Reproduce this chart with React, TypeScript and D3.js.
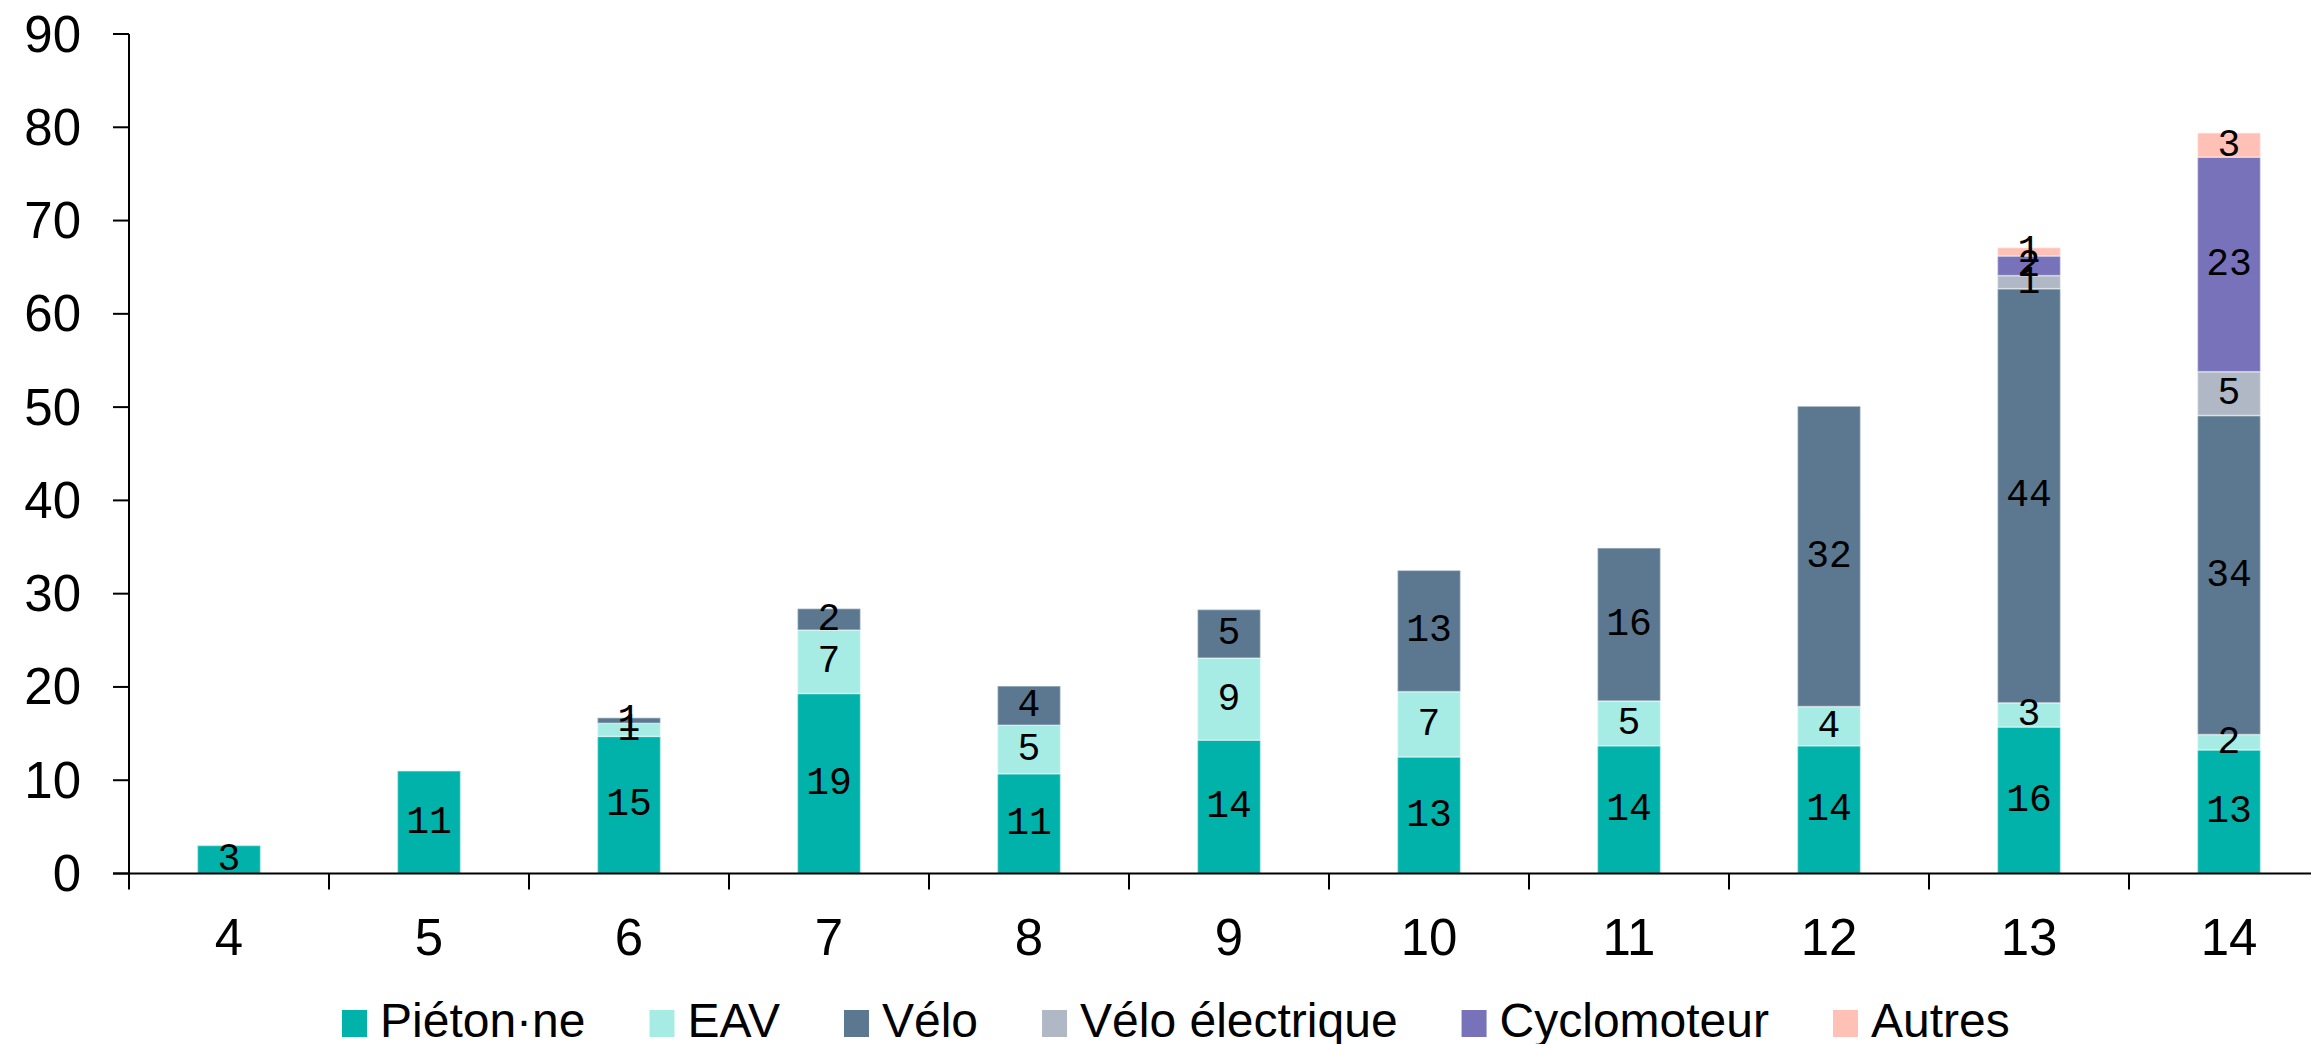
import { useEffect, useRef } from "react";
import * as d3 from "d3";

const categories = ["4", "5", "6", "7", "8", "9", "10", "11", "12", "13", "14"];

const pieton = [3.0, 11.0, 14.7, 19.3, 10.7, 14.3, 12.5, 13.7, 13.7, 15.7, 13.25];
const eav = [0, 0, 1.4, 6.8, 5.2, 8.8, 7.0, 4.8, 4.2, 2.6, 1.65];
const velo = [0, 0, 0.6, 2.3, 4.2, 5.2, 13.0, 16.4, 32.2, 44.4, 34.2];
const veloElectrique = [0, 0, 0, 0, 0, 0, 0, 0, 0, 1.4, 4.7];
const cyclomoteur = [0, 0, 0, 0, 0, 0, 0, 0, 0, 2.1, 23.0];
const autres = [0, 0, 0, 0, 0, 0, 0, 0, 0, 0.9, 2.6];

const seriesNames = ["Piéton·ne", "EAV", "Vélo", "Vélo électrique", "Cyclomoteur", "Autres"];
const seriesValues = [pieton, eav, velo, veloElectrique, cyclomoteur, autres];
const seriesColors = ["#00B2A9", "#A6ECE4", "#5B7890", "#B0B8C6", "#7872BA", "#FFC1B6"];

const yTicks = [0, 10, 20, 30, 40, 50, 60, 70, 80, 90];

const W = 2311;
const H = 1044;
const AXIS_FONT = "'Liberation Sans', Arial, sans-serif";
const LABEL_FONT = "'Liberation Mono', 'DejaVu Sans Mono', monospace";

export default function App() {
  const legendRef = useRef<SVGGElement>(null);

  useEffect(() => {
    document.body.style.margin = "0";
    const g = legendRef.current;
    if (!g) return;
    // lay out legend items from measured text widths
    let x = 342;
    d3.select(g)
      .selectAll<SVGGElement, unknown>("g.item")
      .each(function () {
        const item = d3.select(this);
        item.attr("transform", `translate(${x},0)`);
        const t = item.select<SVGTextElement>("text").node();
        const w = t ? t.getComputedTextLength() : 0;
        x += 38 + w + 64;
      });
  }, []);

  const plotLeft = 129;
  const plotRight = 2329;
  const plotBottom = 873.5;
  const plotTop = 34;

  const x = d3
    .scaleBand<string>()
    .domain(categories)
    .range([plotLeft, plotRight])
    .paddingInner(0.685)
    .paddingOuter(0.3425);

  const y = d3.scaleLinear().domain([0, 90]).range([plotBottom, plotTop]);

  const table = categories.map((c, i) => {
    const row: Record<string, number | string> = { cat: c };
    seriesNames.forEach((s, k) => (row[s] = seriesValues[k][i]));
    return row;
  });

  const stacked = d3.stack<Record<string, number | string>>().keys(seriesNames)(table as any);
  const fmt = d3.format(".0f");
  const step = x.step();
  const boundaries = categories.map((c) => x(c)! + x.bandwidth() / 2 - step / 2);
  boundaries.push(boundaries[boundaries.length - 1] + step);

  return (
    <svg width={W} height={H} style={{ display: "block", background: "#fff" }}>
      {/* bars */}
      {stacked.map((layer, k) => (
        <g key={seriesNames[k]}>
          {layer.map((d, i) => {
            const v = d[1] - d[0];
            if (v <= 0) return null;
            return (
              <rect
                key={i}
                x={x(categories[i])}
                y={y(d[1])}
                width={x.bandwidth()}
                height={y(d[0]) - y(d[1])}
                fill={seriesColors[k]}
                stroke="#ffffff"
                strokeOpacity={0.45}
                strokeWidth={1.5}
              />
            );
          })}
        </g>
      ))}

      {/* value labels */}
      {stacked.map((layer, k) => (
        <g key={"lab" + seriesNames[k]} fontFamily={LABEL_FONT} fontSize={38} fill="#000">
          {layer.map((d, i) => {
            const v = d[1] - d[0];
            if (v <= 0) return null;
            return (
              <text
                key={i}
                x={x(categories[i])! + x.bandwidth() / 2}
                y={y((d[0] + d[1]) / 2)}
                textAnchor="middle"
                dominantBaseline="central"
              >
                {fmt(v)}
              </text>
            );
          })}
        </g>
      ))}

      {/* y axis */}
      <g fontFamily={AXIS_FONT} fontSize={51}>
        <line x1={plotLeft} x2={plotLeft} y1={plotTop} y2={plotBottom} stroke="#000" strokeWidth={2} />
        {yTicks.map((t) => (
          <g key={t}>
            <line x1={plotLeft - 16} x2={plotLeft} y1={y(t)} y2={y(t)} stroke="#000" strokeWidth={2} />
            <text x={81} y={y(t)} textAnchor="end" dominantBaseline="central">
              {t}
            </text>
          </g>
        ))}
      </g>

      {/* x axis */}
      <g fontFamily={AXIS_FONT} fontSize={51}>
        <line x1={plotLeft - 16} x2={plotRight} y1={plotBottom} y2={plotBottom} stroke="#000" strokeWidth={2} />
        {boundaries.map((b, i) => (
          <line key={i} x1={b} x2={b} y1={plotBottom} y2={plotBottom + 16} stroke="#000" strokeWidth={2} />
        ))}
        {categories.map((c) => (
          <text key={c} x={x(c)! + x.bandwidth() / 2} y={955} textAnchor="middle">
            {c}
          </text>
        ))}
      </g>

      {/* legend */}
      <g ref={legendRef} fontFamily={AXIS_FONT} fontSize={48}>
        {seriesNames.map((s, k) => (
          <g className="item" key={s}>
            <rect x={0} y={1010} width={25} height={27} fill={seriesColors[k]} />
            <text x={38} y={1037}>
              {s}
            </text>
          </g>
        ))}
      </g>
    </svg>
  );
}
